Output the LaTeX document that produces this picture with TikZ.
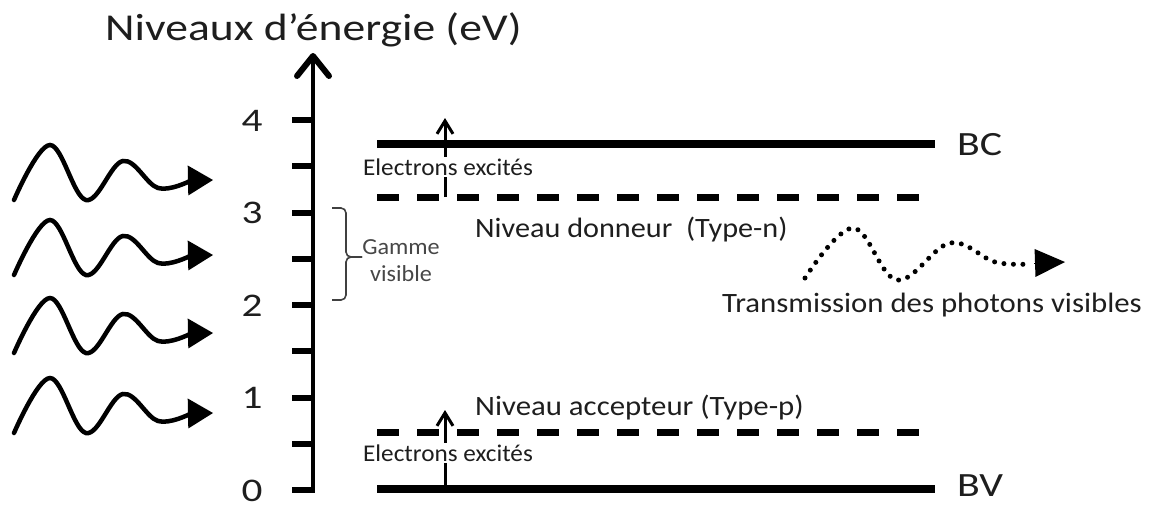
\documentclass[tikz,border=0pt]{standalone}
\usepackage{fontspec}
\setmainfont{Carlito}
\usetikzlibrary{arrows.meta}
\newcommand\sx[2]{\scalebox{#1}[1]{#2}}
\newcommand\fs[1]{\fontsize{#1}{#1}\selectfont}
\definecolor{txt}{HTML}{1E1E1E}
\begin{document}
\begin{tikzpicture}[x=1pt,y=-1pt,
  lbl/.style={inner sep=0pt, text=txt},
  axisline/.style={line width=4.5pt, -{Straight Barb[length=20pt,width=32pt,line width=6pt,round]}},
  tickline/.style={line width=6pt},
  level/.style={line width=8pt},
  dlevel/.style={line width=7pt, dash pattern=on 22pt off 18pt},
  earrow/.style={line width=3pt, -{Straight Barb[length=13pt,width=16pt,line width=3pt]}},
  wave/.style={line width=4.5pt, line cap=round},
  whead/.style={line width=0pt, -{Triangle[length=25pt,width=30pt]}},
  dwave/.style={line width=5pt, line cap=round, dash pattern=on 0pt off 9.5pt},
  dhead/.style={line width=0pt, -{Triangle[length=30pt,width=28pt]}},
  brace/.style={line width=1.6pt, draw=black!75, rounded corners=5pt}
]
\useasboundingbox (0,0) rectangle (1153,507);

% title
\node[lbl, anchor=base west] (title) at (105,40) {\fs{38}\sx{1.2}{Niveaux d’énergie (eV)}};

% axis
\coordinate (axbot) at (313,492);
\coordinate (axtop) at (313,53);
\draw[axisline] (axbot) -- (axtop);
\foreach \e in {0,0.5,...,4.0}{
  \draw[tickline] (292,{490-92.5*\e}) -- (315,{490-92.5*\e});
}
\foreach \e in {0,1,2,3,4}{
  \node[lbl, anchor=base] (num\e) at (252,{490-92.5*\e+11}) {\fs{33}\sx{1.25}{\e}};
}

% incoming waves
\foreach \T [count=\i] in {180,255,333,413}{
  \draw[wave] plot[smooth, tension=0.62] coordinates {(14,\T+20) (50,\T-35) (86,\T+20) (123,\T-19) (158,\T+8) (190,\T+1)};
  \coordinate (wb\i) at (187,\T+0.5);
  \coordinate (wt\i) at (213,\T);
  \draw[whead] (wb\i) -- (wt\i);
}

% levels
\coordinate (bcL) at (377,144); \coordinate (bcR) at (935,144);
\coordinate (dnL) at (377,197); \coordinate (dnR) at (930,197);
\coordinate (acL) at (377,432); \coordinate (acR) at (930,432);
\coordinate (bvL) at (377,489); \coordinate (bvR) at (935,489);
\draw[level] (bcL) -- (bcR);
\draw[dlevel] (dnL) -- (dnR);
\draw[dlevel] (acL) -- (acR);
\draw[level] (bvL) -- (bvR);

\node[lbl, anchor=base west] (bc) at (957,155) {\fs{34}\sx{1.23}{BC}};
\node[lbl, anchor=base west] (bv) at (957,496) {\fs{34}\sx{1.23}{BV}};

% electron arrows
\coordinate (e1s) at (445,197); \coordinate (e1t) at (445,118);
\coordinate (e2s) at (445,489); \coordinate (e2t) at (445,410);
\draw[earrow] (e1s) -- (e1t);
\draw[earrow] (e2s) -- (e2t);
\node[lbl, fill=white, inner ysep=2pt, inner xsep=1pt] (ex1) at (448,167) {\fs{24}\sx{1.05}{Electrons excités}};
\node[lbl, fill=white, inner ysep=2pt, inner xsep=1pt] (ex2) at (448,453) {\fs{24}\sx{1.05}{Electrons excités}};

% level labels
\node[lbl, anchor=base west] (donneur) at (475,237) {\fs{28}\sx{1.08}{Niveau donneur\ \ (Type-n)}};
\node[lbl, anchor=base west] (accepteur) at (475,415) {\fs{28}\sx{1.1}{Niveau accepteur (Type-p)}};

% visible range brace
\coordinate (brT) at (332,208);
\coordinate (brB) at (332,300);
\coordinate (brM) at (362,257);
\draw[brace] (brT) -- (346,208) -- (346,257) -- (brM);
\draw[brace] (brM) -- (346,257) -- (346,300) -- (brB);
\node[lbl, align=center, font={\fontsize{23}{27}\selectfont}, text=black!72] (gamme) at (401,261) {\sx{1.05}{Gamme}\\\sx{1.05}{visible}};

% transmitted photon
\draw[dwave] plot[smooth, tension=0.62] coordinates {(805,278) (853,228) (897,280) (950,243) (995,262) (1030,264)};
\coordinate (db) at (1034,263);
\coordinate (dt) at (1065,262);
\draw[dhead] (db) -- (dt);
\node[lbl, anchor=base west] (trans) at (722,312) {\fs{28}\sx{1.1}{Transmission des photons visibles}};
\end{tikzpicture}
\end{document}
